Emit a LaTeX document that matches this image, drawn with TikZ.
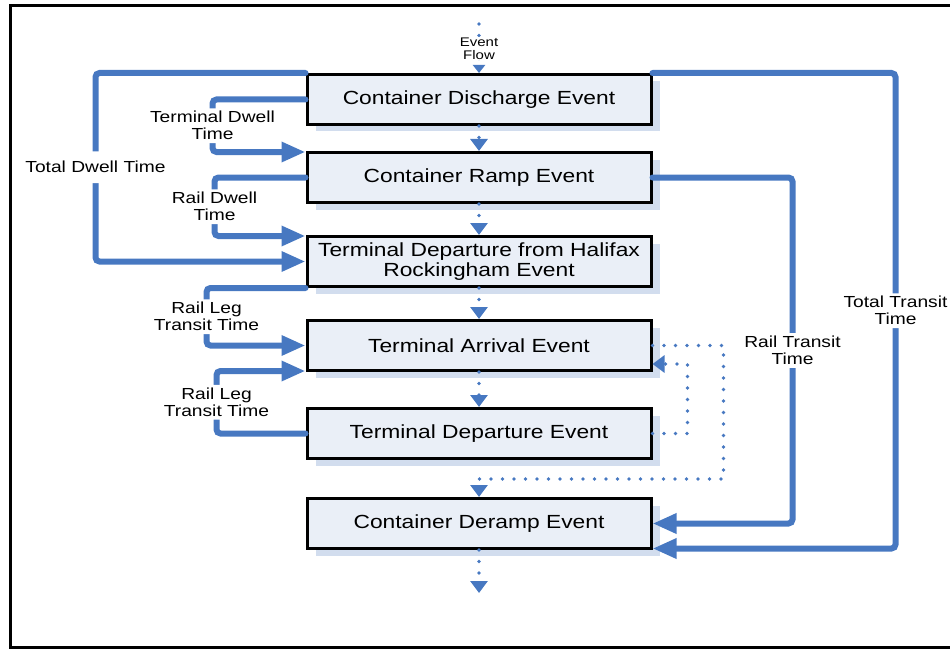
\documentclass[tikz,border=0pt]{standalone}
\usepackage{fontspec}
\setmainfont{Liberation Sans}[FakeStretch=1.2]
\usepackage{tikz}
\usetikzlibrary{arrows.meta,positioning,shadows}
\definecolor{linkblue}{RGB}{71,120,193}
\definecolor{boxfill}{RGB}{234,239,247}
\definecolor{shadowblue}{RGB}{210,221,238}

\begin{document}
\begin{tikzpicture}[x=1pt, y=-1pt,
  node distance=25pt,
  evbox/.style={draw, line width=3pt, fill=boxfill, minimum width=344pt, minimum height=50pt, align=center, font=\fontsize{19}{20}\selectfont, drop shadow={shadow xshift=9pt, shadow yshift=-7pt, fill=shadowblue, opacity=1}},
  tline/.style={draw=linkblue, line width=6pt, line cap=round, rounded corners=4pt, -{Triangle[length=24pt,width=19pt]}},
  fline/.style={draw=linkblue, line width=3.8pt, line cap=round, dash pattern=on 0pt off 11.5pt, -{Triangle[length=12pt,width=17pt]}},
  lbl/.style={fill=white, align=center, font=\fontsize{16}{17}\selectfont, inner sep=3pt}
]
\useasboundingbox (0,0) rectangle (950,650);
\draw[line width=3pt] (10,6) rectangle (990,647);

\node[evbox] (discharge) at (479,99.5) {Container Discharge Event};
\node[evbox, below=25pt of discharge] (ramp) {Container Ramp Event};
\node[evbox, below=31pt of ramp] (halifax) {Terminal Departure from Halifax\\Rockingham Event};
\node[evbox, below=31pt of halifax] (arrival) {Terminal Arrival Event};
\node[evbox, below=35pt of arrival] (departure) {Terminal Departure Event};
\node[evbox, below=37pt of departure] (deramp) {Container Deramp Event};

\coordinate (flowtop) at (479,24);
\coordinate (flowend) at (479,593);
\coordinate (loopturn) at (479,479);

\draw[fline, -{Triangle[length=8pt,width=12pt]}] (flowtop) -- node[fill=white, align=center, inner sep=1pt, font=\fontsize{12.5}{13}\selectfont] (flowlbl) {Event\\Flow} (discharge.north);
\draw[fline] (discharge.south) -- (ramp.north);
\draw[fline] (ramp.south) -- (halifax.north);
\draw[fline] (halifax.south) -- (arrival.north);
\draw[fline] (arrival.south) -- (departure.north);
\draw[fline] (deramp.south) -- (flowend);
\draw[fline] (arrival.east) -- ++(71,0) |- (loopturn) -- (deramp.north);
\draw[fline] (departure.east) -- ++(35,0) |- ([yshift=8pt]arrival.south east);

\draw[tline] (discharge.north west) -- ++(-210,0) |- node[lbl, pos=0.25, inner ysep=10pt] {Total Dwell Time} (halifax.west);
\draw[tline] (discharge.west) -- ++(-93,0) |- node[lbl, pos=0.25] {Terminal Dwell\\Time} ([yshift=-1pt]ramp.north west);
\draw[tline] (ramp.west) -- ++(-91,0) |- node[lbl, pos=0.25] {Rail Dwell\\Time} ([yshift=-1pt]halifax.north west);
\draw[tline] (halifax.south west) -- ++(-99,0) |- node[lbl, pos=0.25] {Rail Leg\\Transit Time} (arrival.west);
\draw[tline] (departure.west) -- ++(-89,0) |- node[lbl, pos=0.25] {Rail Leg\\Transit Time} ([yshift=1pt]arrival.south west);
\draw[tline] (discharge.north east) -- ++(243,0) |- node[lbl, pos=0.25] {Total Transit\\Time} ([yshift=1.5pt]deramp.south east);
\draw[tline] (ramp.east) -- ++(140,0) |- node[lbl, pos=0.25] {Rail Transit\\Time} (deramp.east);
\end{tikzpicture}
\end{document}
